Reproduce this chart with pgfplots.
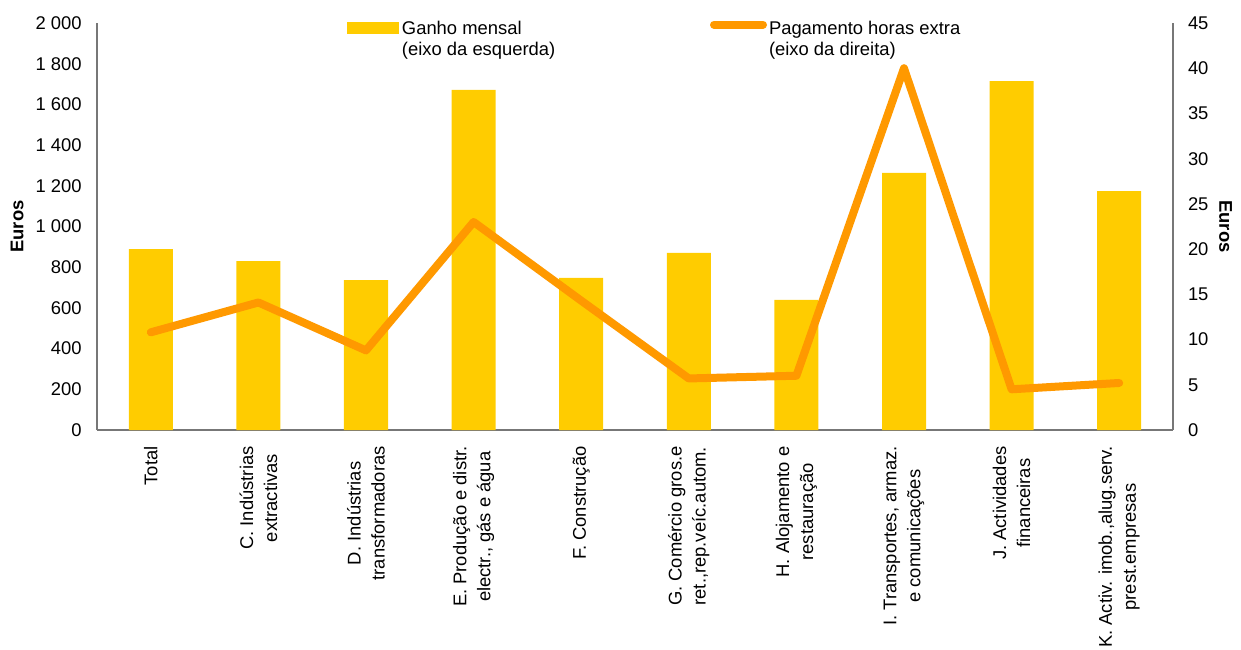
\documentclass[border=0pt]{standalone}
\usepackage{pgfplots}
\pgfplotsset{compat=1.18}
\usepackage{fontspec}
\setmainfont{Liberation Sans}
\definecolor{barc}{HTML}{FFCC00}
\definecolor{linec}{HTML}{FF9900}
\definecolor{axc}{HTML}{777777}
\begin{document}
\begin{tikzpicture}
\useasboundingbox (-48.5pt,-109.5pt) rectangle (572pt,215pt);
\begin{axis}[
  at={(0pt,0pt)}, anchor=south west,
  scale only axis, width=538pt, height=203.5pt,
  xmin=-0.5, xmax=9.5, ymin=0, ymax=2000,
  axis x line*=bottom, axis y line*=left,
  axis line style={draw=axc, line width=0.6pt, -},
  major tick length=0pt,
  xtick={0,...,9},
  xticklabels={Total,{C. Indústrias\\extractivas},{D. Indústrias\\transformadoras},{E. Produção e distr.\\electr., gás e água},{F. Construção},{G. Comércio gros.e\\ret.,rep.veíc.autom.},{H. Alojamento e\\restauração},{I. Transportes, armaz.\\e comunicações},{J. Actividades\\financeiras},{K. Activ. imob.,alug.serv.\\prest.empresas}},
  xticklabel style={rotate=90, anchor=east, align=center, inner sep=0pt, font=\fontsize{9.2}{12}\selectfont},
  xticklabel shift=8pt,
  ytick={0,200,...,2000},
  yticklabels={0,200,400,600,800,{1 000},{1 200},{1 400},{1 600},{1 800},{2 000}},
  yticklabel style={inner sep=0pt, font=\fontsize{9.2}{11}\selectfont},
  yticklabel shift=7.5pt,
  ylabel={Euros},
  ylabel style={at={(axis description cs:-0.0743,0.5)}, anchor=center, font=\bfseries\fontsize{9.2}{11}\selectfont},
  legend style={draw=none, fill=none, inner sep=0pt, outer sep=0pt,
    at={(axis description cs:0.2323,1.0046)}, anchor=north west,
    nodes={inner sep=0pt, align=left, font=\fontsize{9.2}{10.75}\selectfont}},
  legend cell align=left,
]
\addplot[ybar, bar width=22pt, fill=barc, draw=none,
  legend image code/.code={\path[draw=none, fill=none] (0pt,-3pt) rectangle (27.5pt,3pt);
    \begin{pgfinterruptboundingbox}\fill[barc] (0pt,3pt) rectangle (26pt,9pt);\end{pgfinterruptboundingbox}}]
  coordinates {(0,889) (1,830) (2,737) (3,1671) (4,747) (5,870) (6,639) (7,1263) (8,1715) (9,1174)};
\addlegendentry{Ganho mensal\\(eixo da esquerda)}
\end{axis}
\begin{axis}[
  at={(0pt,0pt)}, anchor=south west,
  scale only axis, width=538pt, height=203.5pt,
  xmin=-0.5, xmax=9.5, ymin=0, ymax=45,
  axis x line=none, axis y line*=right,
  axis line style={draw=axc, line width=0.6pt, -},
  major tick length=0pt,
  ytick={0,5,...,45},
  yticklabels={0,5,10,15,20,25,30,35,40,45},
  yticklabel style={inner sep=0pt, font=\fontsize{9.2}{11}\selectfont},
  yticklabel shift=7.3pt,
  ylabel={Euros},
  ylabel style={at={(axis description cs:1.049,0.5)}, anchor=center, rotate=180, font=\bfseries\fontsize{9.2}{11}\selectfont},
  legend style={draw=none, fill=none, inner sep=0pt, outer sep=0pt,
    at={(axis description cs:0.5697,1.0046)}, anchor=north west,
    nodes={inner sep=0pt, align=left, font=\fontsize{9.2}{10.75}\selectfont}},
  legend cell align=left,
]
\addplot[linec, line width=4pt, line cap=round, line join=round,
  legend image code/.code={\path[draw=none, fill=none] (0pt,-3pt) rectangle (29.5pt,3pt);
    \begin{pgfinterruptboundingbox}\draw[linec, line width=4pt, line cap=round] (2pt,7.7pt) -- (26.5pt,7.7pt);\end{pgfinterruptboundingbox}}]
  coordinates {(0,10.8) (1,14.1) (2,8.8) (3,23.0) (4,14.3) (5,5.7) (6,6.0) (7,40.0) (8,4.5) (9,5.2)};
\addlegendentry{Pagamento horas extra\\(eixo da direita)}
\end{axis}
\end{tikzpicture}
\end{document}
